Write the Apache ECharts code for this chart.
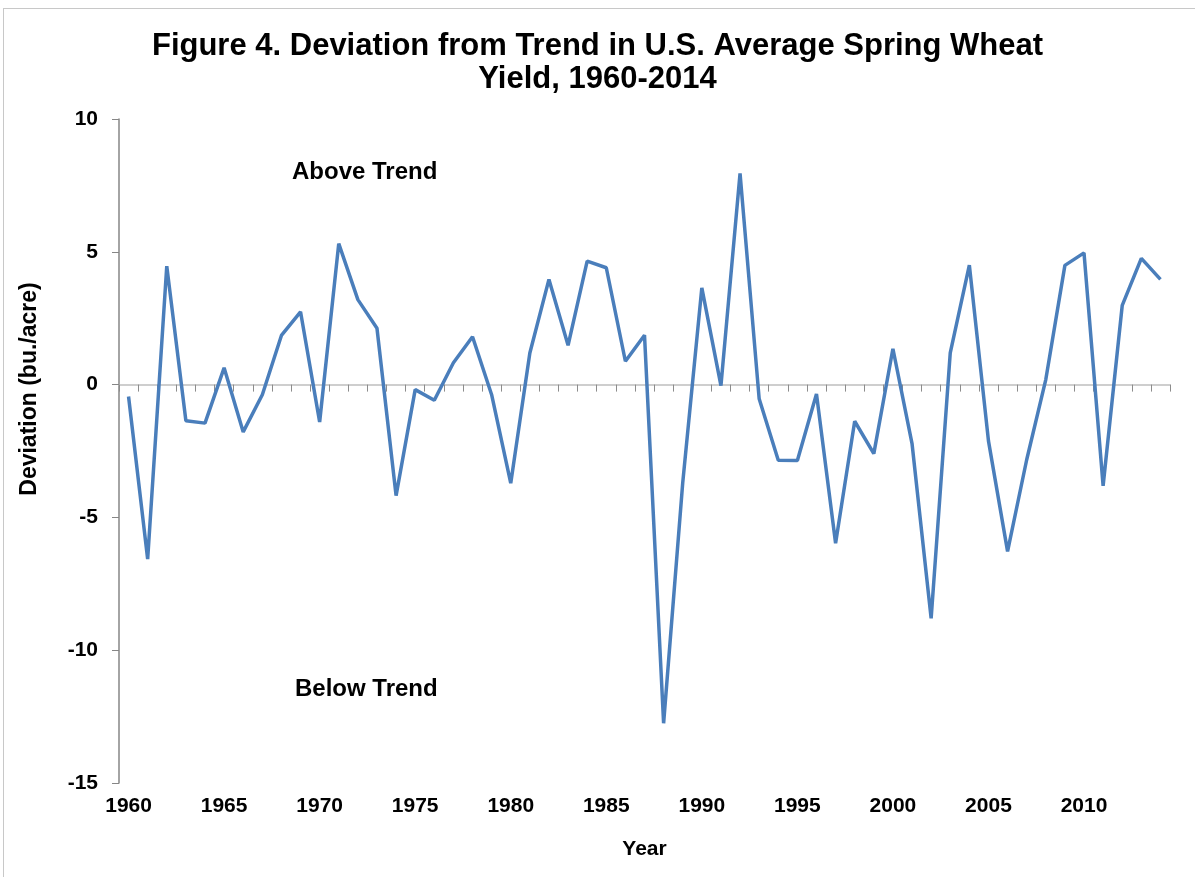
<!DOCTYPE html>
<html>

<head>
  <meta charset="utf-8">
  <title>Figure 4 - Spring Wheat Yield Deviation</title>
  <script src="https://cdn.jsdelivr.net/npm/echarts@6/dist/echarts.min.js"></script>
  <style>
    html, body { margin: 0; padding: 0; background: #fff; }
    #frame { position: absolute; left: 3px; top: 8px; width: 1192px; height: 869px;
             border-left: 1px solid #c8c8c8; border-top: 1px solid #c8c8c8; }
    #chart { position: absolute; left: 0; top: 0; width: 1195px; height: 877px; }
  </style>
</head>

<body>
  <div id="frame"></div>
  <div id="chart"></div>

<script>
  // years 1960..2014
  const years = [];
  for (let y = 1960; y <= 2014; y++) years.push(String(y));

  // deviation from trend, bu./acre
  const deviation = [
    -0.45, -6.57, 4.46, -1.36, -1.45, 0.63, -1.78, -0.38, 1.85, 2.74,
    -1.41, 5.31, 3.20, 2.12, -4.18, -0.19, -0.59, 0.82, 1.80, -0.38,
    -3.71, 1.19, 3.96, 1.48, 4.65, 4.40, 0.88, 1.86, -12.75, -3.70,
    3.64, -0.04, 7.95, -0.53, -2.85, -2.86, -0.35, -5.97, -1.38, -2.60,
    1.35, -2.22, -8.80, 1.19, 4.50, -2.12, -6.28, -2.83, 0.19, 4.49,
    4.96, -3.81, 2.98, 4.75, 3.96
  ];

  const yTicks = [-15, -10, -5, 0, 5, 10];

  const font = 'Liberation Sans, Arial, sans-serif';
  const chart = echarts.init(document.getElementById('chart'));

  chart.setOption({
    animation: false,
    title: {
      text: 'Figure 4. Deviation from Trend in U.S. Average Spring Wheat\nYield, 1960-2014',
      left: 'center',
      top: 25,
      textStyle: { fontFamily: font, fontWeight: 'bold', fontSize: 31, lineHeight: 33, color: '#000' }
    },
    grid: { left: 119, right: 25, top: 119, bottom: 94, containLabel: false },
    xAxis: [
      {
        // axis line across zero with ticks
        type: 'category',
        data: years,
        boundaryGap: true,
        axisLine: { onZero: true, lineStyle: { color: '#bfbfbf', width: 1.5 } },
        axisTick: { show: true, interval: 0, inside: false, length: 7, lineStyle: { color: '#8c8c8c' } },
        axisLabel: { show: false },
        splitLine: { show: false }
      },
      {
        // labels along the bottom
        type: 'category',
        data: years,
        position: 'bottom',
        boundaryGap: true,
        axisLine: { show: false },
        axisTick: { show: false },
        axisLabel: {
          interval: 4,
          margin: 13,
          fontFamily: font, fontWeight: 'bold', fontSize: 21, color: '#000'
        },
        name: 'Year',
        nameLocation: 'middle',
        nameGap: 56,
        nameTextStyle: { fontFamily: font, fontWeight: 'bold', fontSize: 21, color: '#000' }
      }
    ],
    yAxis: {
      type: 'value',
      min: yTicks[0],
      max: yTicks[yTicks.length - 1],
      interval: 5,
      axisLine: { show: true, lineStyle: { color: '#868686', width: 1.5 } },
      axisTick: { show: true, length: 7, lineStyle: { color: '#868686' } },
      splitLine: { show: false },
      axisLabel: {
        margin: 21,
        fontFamily: font, fontWeight: 'bold', fontSize: 21, color: '#000'
      }
    },
    graphic: [
      // y axis title sits around the zero line in the original, not the plot middle
      {
        type: 'text', x: 30, y: 389, rotation: Math.PI / 2,
        style: { text: 'Deviation (bu./acre)', font: 'bold 23px Liberation Sans, Arial, sans-serif',
                 fill: '#000', align: 'center', verticalAlign: 'middle' }
      },
      { type: 'text', left: 292, top: 160, style: { text: 'Above Trend', font: 'bold 24px Liberation Sans, Arial, sans-serif', fill: '#000' } },
      { type: 'text', left: 295, top: 677, style: { text: 'Below Trend', font: 'bold 24px Liberation Sans, Arial, sans-serif', fill: '#000' } }
    ],
    series: [{
      type: 'line',
      xAxisIndex: 0,
      data: deviation,
      symbol: 'none',
      lineStyle: { color: '#4a7ebb', width: 3.5 },
      emphasis: { disabled: true }
    }]
  });
</script>

</body>

</html>
